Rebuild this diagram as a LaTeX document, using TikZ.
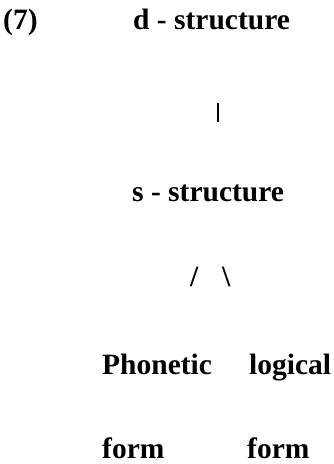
\documentclass[tikz,border=0pt]{standalone}
\usepackage{fontspec}
\setmainfont{Liberation Serif}
\begin{document}
\begin{tikzpicture}[x=1pt,y=1pt,
  lbl/.style={anchor=base west,inner sep=0pt,font=\bfseries\fontsize{29.5}{35}\selectfont},
  tick/.style={line width=2.6pt}]
\useasboundingbox (0,0) rectangle (334,-464);
\node[lbl] (num) at (3,-29) {(7)};
\node[lbl] (d) at (133,-29) {d - structure};
\coordinate (bt) at (218,-103);
\coordinate (bb) at (218,-122);
\draw[tick] (bt) -- (bb);
\node[lbl] (s) at (132,-201) {s - structure};
\node[lbl] (sl) at (190,-286) {/};
\node[lbl] (bs) at (222,-286) {\textbackslash};
\node[lbl] (ph) at (102,-374) {Phonetic};
\node[lbl] (lo) at (249,-374) {logical};
\node[lbl] (f1) at (102,-458) {form};
\node[lbl] (f2) at (247,-458) {form};
\end{tikzpicture}
\end{document}
